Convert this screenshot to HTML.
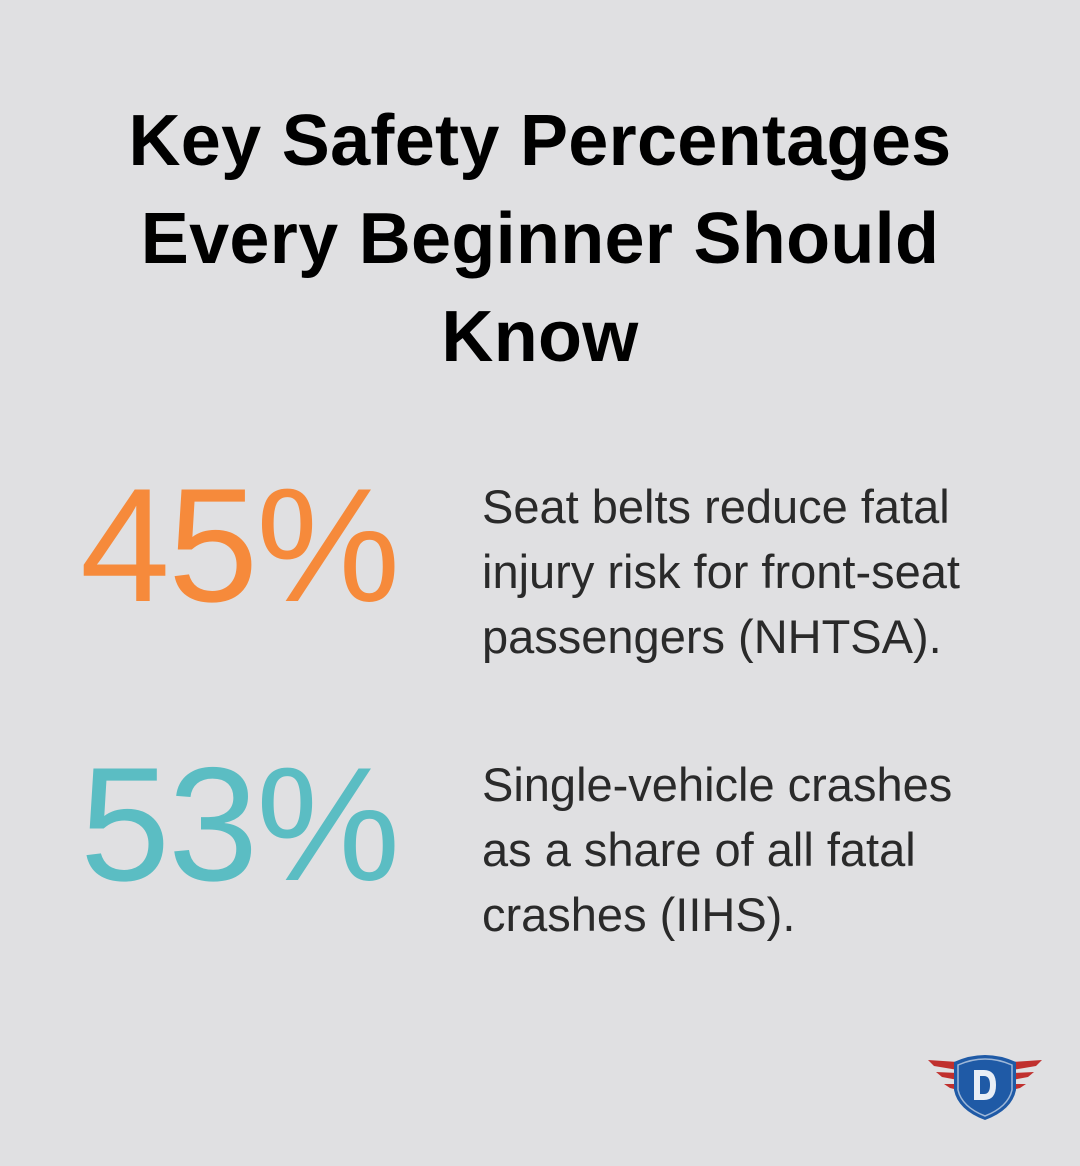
<!DOCTYPE html>
<html><head><style>
body{margin:0;width:1080px;height:1166px;background:#e0e0e2;font-family:"Liberation Sans",sans-serif;position:relative;overflow:hidden}
h1{position:absolute;top:92px;left:0;width:1080px;margin:0;text-align:center;font-size:72px;line-height:98px;font-weight:bold;color:#000;letter-spacing:0.3px}
.num{position:absolute;left:80px;font-size:162px;line-height:1;letter-spacing:-2px}
.txt{position:absolute;left:482px;font-size:47px;line-height:65px;color:#2a2a2a;white-space:nowrap}
</style></head><body>
<h1>Key Safety Percentages<br>Every Beginner Should<br>Know</h1>
<div class="num" style="top:465px;color:#f68a3b">45%</div>
<div class="txt" style="top:474px">Seat belts reduce fatal<br>injury risk for front-seat<br>passengers (NHTSA).</div>
<div class="num" style="top:744px;color:#5bbdc3">53%</div>
<div class="txt" style="top:752px">Single-vehicle crashes<br>as a share of all fatal<br>crashes (IIHS).</div>
<svg style="position:absolute;left:920px;top:1040px" width="130" height="90" viewBox="0 0 130 90">
<g fill="#c0302e">
<path d="M8 20 L38 22 L38 30 L14 26Z"/><path d="M16 32 L38 33 L38 40 L22 37Z"/><path d="M24 44 L38 44 L38 50 L30 48Z"/>
<path d="M122 20 L92 22 L92 30 L116 26Z"/><path d="M114 32 L92 33 L92 40 L108 37Z"/><path d="M106 44 L92 44 L92 50 L100 48Z"/>
</g>
<path d="M34 22 Q65 8 96 22 L96 50 Q92 70 65 80 Q38 70 34 50Z" fill="#1f5aa6"/>
<path d="M38 25 Q65 13 92 25 L92 50 Q88 67 65 76 Q42 67 38 50Z" fill="none" stroke="#9fb8d8" stroke-width="1.5"/>
<path d="M54 30 L64 30 Q76 30 76 45 Q76 60 64 60 L54 60Z M60 36 L60 54 L64 54 Q70 54 70 45 Q70 36 64 36Z" fill="#e8eef6" fill-rule="evenodd"/>
</svg>
</body></html>
